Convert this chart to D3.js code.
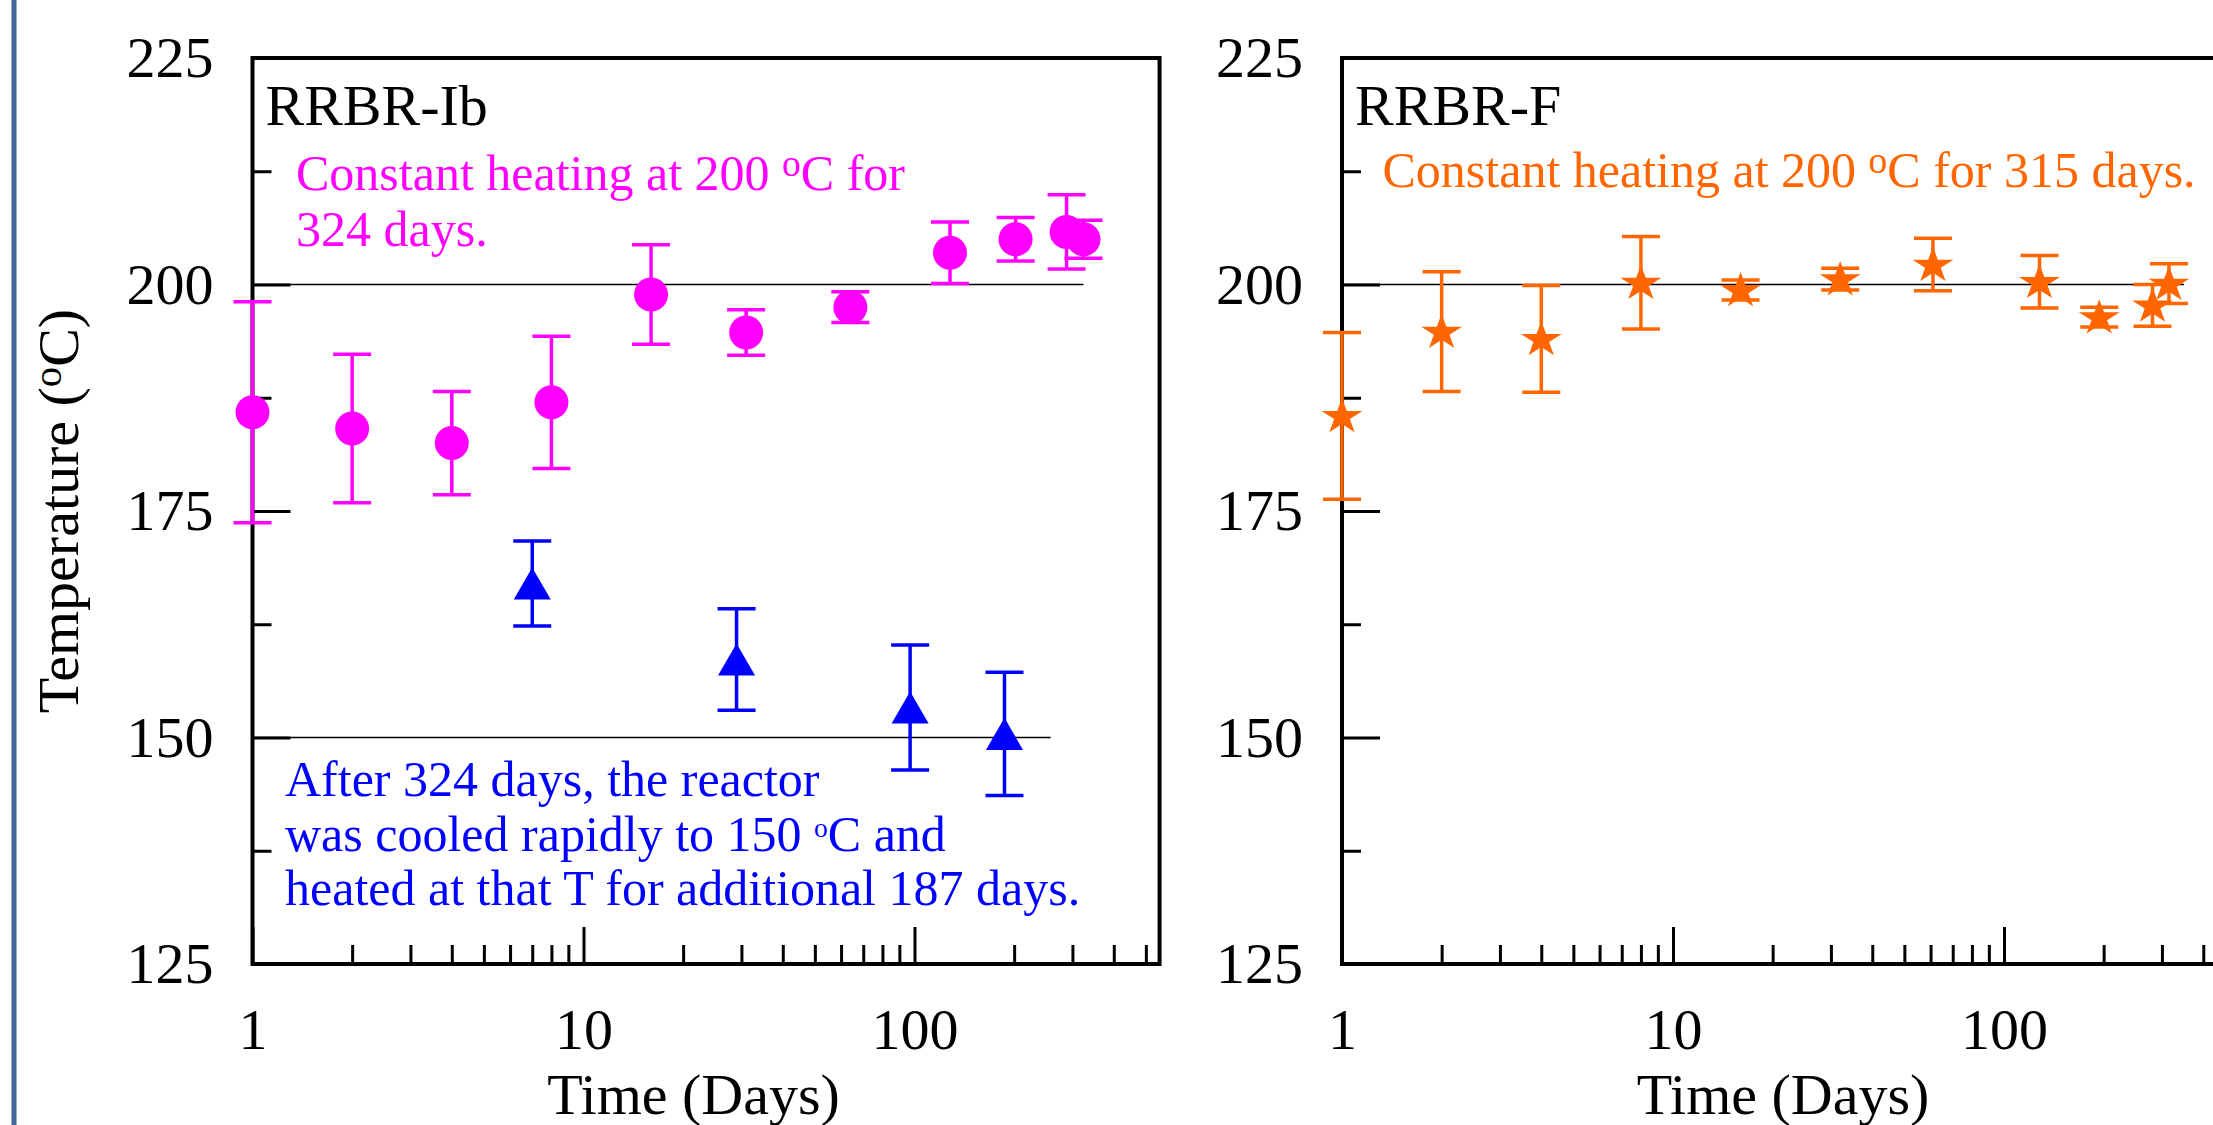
<!DOCTYPE html>
<html>
<head>
<meta charset="utf-8">
<script src="https://cdn.jsdelivr.net/npm/d3@7"></script>
<style>
	body { margin: 0; background: white; overflow: hidden; }
	svg { display: block; }
	text { font-family: "Liberation Serif", "Times New Roman", serif; }
</style>
</head>
<body>
<svg id="chart" width="2213" height="1125"></svg>
<script>
var xDomain = [1, 550];
var yDomain = [125, 225];
var yTicks = [125, 150, 175, 200, 225];
var yMinorTicks = [137.5, 162.5, 187.5, 212.5];
var xTicks = [1, 10, 100];
var xMinorTicks = [2, 3, 4, 5, 6, 7, 8, 9, 20, 30, 40, 50, 60, 70, 80, 90, 200, 300, 400, 500];

// RRBR-Ib, heated at 200 C
var ibDays = [1, 2, 4, 8, 16, 31, 64, 128, 202, 288, 324];
var ibTemp = [185.9, 184.1, 182.5, 187.0, 198.9, 194.7, 197.5, 203.5, 205.0, 205.8, 205.0];
var ibErr  = [12.2, 8.2, 5.7, 7.3, 5.5, 2.5, 1.7, 3.4, 2.4, 4.1, 2.1];

// RRBR-Ib after it was cooled to 150 C
var coolDays = [7, 29, 97, 187];
var coolTemp = [167.0, 158.6, 153.3, 150.4];
var coolErr  = [4.7, 5.6, 6.9, 6.8];

// RRBR-F
var fDays = [1, 2, 4, 8, 16, 32, 61, 128, 194, 281, 315];
var fTemp = [185.5, 194.8, 194.0, 200.2, 199.4, 200.6, 202.2, 200.3, 196.4, 197.7, 200.1];
var fErr  = [9.2, 6.6, 5.9, 5.1, 1.1, 1.2, 2.9, 2.9, 1.1, 2.3, 2.2];

// reference temperature, first day, last day
var ibRefs = [[200, 1, 324], [150, 1, 258]];
var fRefs = [[200, 1, 350]];

var panelNames = ["RRBR-Ib", "RRBR-F"];
var xTitle = "Time (Days)";
var yTitle = "Temperature (^oC)";		// ^o = superscript o
var ibNote = ["Constant heating at 200 ^oC for", "324 days."];
var coolNote = ["After 324 days, the reactor", "was cooled rapidly to 150 ^oC and", "heated at that T for additional 187 days."];
var fNote = ["Constant heating at 200 ^oC for 315 days."];

var colors = {
	magenta: "#ff00ff",
	blue: "#0000ff",
	orange: "#ff6600",
	edge: "#41679a"
};

var plot = { top: 58, bottom: 964, decade: 331 };
var fontSize = 58;

var svg = d3.select("#chart");
svg.append("rect").attr("width", 2213).attr("height", 1125).attr("fill", "white");

// the slide's blue rule on the left
svg.append("line")
	.attr("x1", 14).attr("x2", 14)
	.attr("y1", 0).attr("y2", 1125)
	.attr("stroke", colors.edge)
	.attr("stroke-width", 5);

var y = d3.scaleLinear().domain(yDomain).range([plot.bottom, plot.top]);

function richText(g, line, x, yPos, size, color, supScale, supRise) {
	var t = g.append("text")
		.attr("x", x).attr("y", yPos)
		.attr("font-size", size)
		.attr("fill", color)
		.style("white-space", "pre");
	line.split("^o").forEach(function(part, j) {
		if (j > 0) {
			t.append("tspan").attr("font-size", size * supScale).attr("dy", -supRise).text("o");
			t.append("tspan").attr("dy", supRise).text(part);
		} else {
			t.append("tspan").text(part);
		}
	});
	return t;
}

function styleAxis(g) {
	g.select(".domain").remove();
	g.selectAll(".tick line").attr("stroke", "black").attr("stroke-width", 3);
	g.selectAll(".tick text")
		.attr("fill", "black")
		.attr("font-size", fontSize)
		.attr("font-family", "'Liberation Serif', 'Times New Roman', serif");
}

function errorBars(g, x, days, temp, err, color) {
	var idx = d3.range(days.length);
	var bars = g.append("g").attr("stroke", color).attr("stroke-width", 3.5);
	bars.selectAll(".stem").data(idx).join("line")
		.attr("x1", function(i) { return x(days[i]); })
		.attr("x2", function(i) { return x(days[i]); })
		.attr("y1", function(i) { return y(temp[i] + err[i]); })
		.attr("y2", function(i) { return y(temp[i] - err[i]); });
	[1, -1].forEach(function(sign) {
		bars.selectAll(".cap" + sign).data(idx).join("line")
			.attr("x1", function(i) { return x(days[i]) - 19; })
			.attr("x2", function(i) { return x(days[i]) + 19; })
			.attr("y1", function(i) { return y(temp[i] + sign * err[i]); })
			.attr("y2", function(i) { return y(temp[i] + sign * err[i]); });
	});
}

function markers(g, x, days, temp, shape, size, color, shift, extra) {
	g.append("g").selectAll("path").data(d3.range(days.length)).join("path")
		.attr("d", d3.symbol(shape, size))
		.attr("transform", function(i) {
			return "translate(" + x(days[i]) + "," + (y(temp[i]) + shift) + ")" + (extra || "");
		})
		.attr("fill", color);
}

function drawPanel(left, name, refs) {
	var width = plot.decade * Math.log10(xDomain[1]);
	var x = d3.scaleLog().domain(xDomain).range([left, left + width]);
	var g = svg.append("g");

	// reference lines
	g.append("g").selectAll("line").data(refs).join("line")
		.attr("x1", function(d) { return x(d[1]); })
		.attr("x2", function(d) { return x(d[2]); })
		.attr("y1", function(d) { return y(d[0]); })
		.attr("y2", function(d) { return y(d[0]); })
		.attr("stroke", "black")
		.attr("stroke-width", 1.5);

	// frame
	g.append("rect")
		.attr("x", left).attr("y", plot.top)
		.attr("width", width).attr("height", plot.bottom - plot.top)
		.attr("fill", "none")
		.attr("stroke", "black")
		.attr("stroke-width", 4);

	// ticks point inwards
	var yMajor = g.append("g").attr("transform", "translate(" + left + ",0)")
		.call(d3.axisLeft(y).tickValues(yTicks).tickSize(-38).tickSizeOuter(0).tickPadding(39));
	styleAxis(yMajor);
	var yMinor = g.append("g").attr("transform", "translate(" + left + ",0)")
		.call(d3.axisLeft(y).tickValues(yMinorTicks).tickSize(-19).tickSizeOuter(0).tickFormat(""));
	styleAxis(yMinor);

	var xMajor = g.append("g").attr("transform", "translate(0," + plot.bottom + ")")
		.call(d3.axisBottom(x).tickValues(xTicks).tickSize(-37).tickSizeOuter(0).tickPadding(44).tickFormat(d3.format("d")));
	styleAxis(xMajor);
	var xMinor = g.append("g").attr("transform", "translate(0," + plot.bottom + ")")
		.call(d3.axisBottom(x).tickValues(xMinorTicks).tickSize(-19).tickSizeOuter(0).tickFormat(""));
	styleAxis(xMinor);

	g.append("text")
		.attr("x", left + 441).attr("y", 1114)
		.attr("text-anchor", "middle")
		.attr("font-size", fontSize)
		.text(xTitle);

	g.append("text")
		.attr("x", left + 13).attr("y", 125)
		.attr("font-size", fontSize)
		.text(name);

	return { g: g, x: x };
}

var left = drawPanel(252.5, panelNames[0], ibRefs);
var right = drawPanel(1342, panelNames[1], fRefs);

// y title only on the left panel
var yt = richText(svg, yTitle, 0, 0, fontSize, "black", 0.7, 17);
yt.attr("text-anchor", "middle")
	.attr("transform", "translate(78,511) rotate(-90)");

// RRBR-Ib data
errorBars(left.g, left.x, ibDays, ibTemp, ibErr, colors.magenta);
markers(left.g, left.x, ibDays, ibTemp, d3.symbolCircle, Math.PI * 17 * 17, colors.magenta, 0);
errorBars(left.g, left.x, coolDays, coolTemp, coolErr, colors.blue);
markers(left.g, left.x, coolDays, coolTemp, d3.symbolTriangle, 595, colors.blue, 5.3);

ibNote.forEach(function(line, i) {
	richText(left.g, line, 296, 190 + i * 56, 50, colors.magenta, 0.75, 14);
});
coolNote.forEach(function(line, i) {
	richText(left.g, line, 285, 796 + i * 54.5, 50, colors.blue, 0.55, 14);
});

// RRBR-F data
errorBars(right.g, right.x, fDays, fTemp, fErr, colors.orange);
markers(right.g, right.x, fDays, fTemp, d3.symbolStar, 520, colors.orange, 1, " scale(1,0.88)");
fNote.forEach(function(line, i) {
	richText(right.g, line, 1382.5, 187 + i * 56, 50, colors.orange, 0.75, 14);
});
</script>
</body>
</html>
